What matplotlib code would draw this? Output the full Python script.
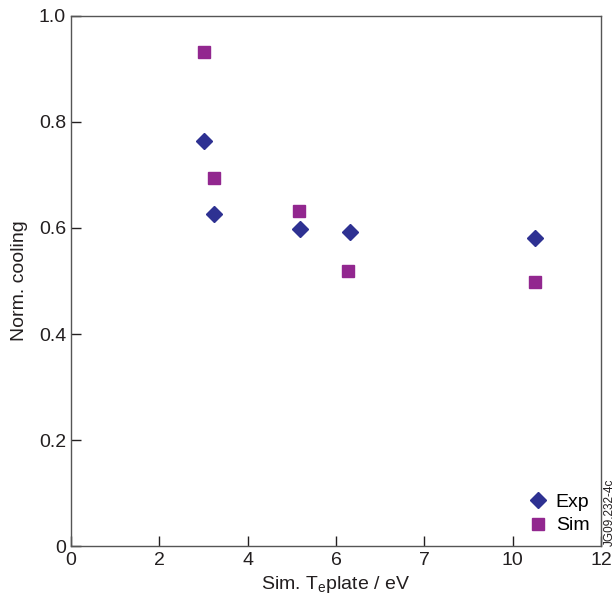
import numpy as np
import matplotlib
matplotlib.use('agg')
import matplotlib.pyplot as plt

plt.rcParams['font.family'] = ['Liberation Sans', 'DejaVu Sans']

# x axis is not linear: ticks are evenly spaced with these labels
tick_values = [0, 2, 4, 6, 7, 10, 12]

exp_te = [3.01, 3.23, 5.18, 6.155, 10.5]
exp_cooling = [0.764, 0.627, 0.599, 0.593, 0.581]

sim_te = [3.01, 3.24, 5.17, 6.14, 10.5]
sim_cooling = [0.932, 0.694, 0.633, 0.518, 0.499]

tick_index = np.arange(len(tick_values))


def forward(x):
    return np.interp(x, tick_values, tick_index)


def inverse(p):
    return np.interp(p, tick_index, tick_values)


fig = plt.figure(figsize=(6.15, 6.03), dpi=100)
ax = fig.add_axes([0.1154, 0.0945, 0.8618, 0.879])
ax.set_xscale('function', functions=(forward, inverse))

ax.plot(exp_te, exp_cooling, linestyle='none', marker='D', markersize=8.5,
        color='#2e3192', label='Exp')
ax.plot(sim_te, sim_cooling, linestyle='none', marker='s', markersize=8,
        color='#92278f', label='Sim')

ax.set_xlim(0, 12)
ax.set_ylim(0, 1.0)
ax.set_xticks(tick_values)
ax.set_xticklabels([str(v) for v in tick_values])
ax.set_xticks([], minor=True)
ax.set_yticks([0, 0.2, 0.4, 0.6, 0.8, 1.0])
ax.set_yticklabels(['0', '0.2', '0.4', '0.6', '0.8', '1.0'])
ax.tick_params(direction='in', length=7, width=1, labelsize=14, colors='#231f20')
ax.tick_params(axis='x', pad=4)

for s in ax.spines.values():
    s.set_color('#555555')
    s.set_linewidth(1)

ax.set_xlabel('Sim. T$_\\mathregular{e}$plate / eV', fontsize=14, color='#231f20', labelpad=4)
ax.set_ylabel('Norm. cooling', fontsize=14, color='#231f20', labelpad=8)

ax.legend(loc='lower right', frameon=False, fontsize=14, handletextpad=0.3,
          borderaxespad=0.2, labelspacing=0.3, handlelength=1.2)

fig.text(0.991, 0.094, 'JG09.232-4c', rotation=90, fontsize=8.5,
         ha='center', va='bottom', color='#231f20')

fig.savefig('out.png', dpi=100)
plt.close(fig)
